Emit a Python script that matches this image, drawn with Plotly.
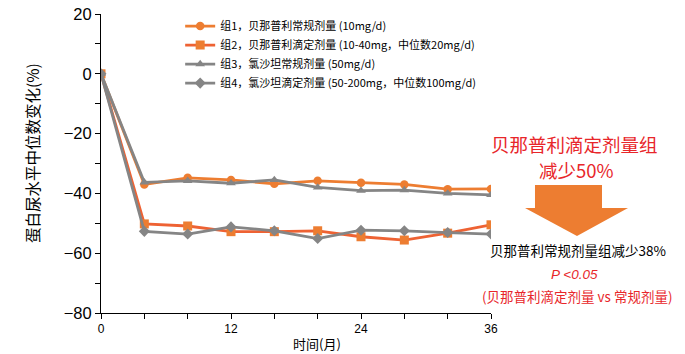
import plotly.graph_objects as go

months = [0, 4, 8, 12, 16, 20, 24, 28, 32, 36]
g1 = [0, -37.0, -34.8, -35.5, -36.8, -35.8, -36.4, -37.0, -38.6, -38.5]
g2 = [0, -50.2, -50.9, -52.8, -52.8, -52.5, -54.5, -55.6, -53.3, -50.5]
g3 = [0, -36.3, -35.8, -36.6, -35.5, -38.0, -39.1, -38.9, -40.0, -40.5]
g4 = [0, -52.7, -53.6, -51.2, -52.5, -55.1, -52.3, -52.5, -53.1, -53.6]
names = [
    "组1，贝那普利常规剂量 (10mg/d)",
    "组2，贝那普利滴定剂量 (10-40mg，中位数20mg/d)",
    "组3，氯沙坦常规剂量 (50mg/d)",
    "组4，氯沙坦滴定剂量 (50-200mg，中位数100mg/d)",
]
ORANGE = "#ED7D31"
GRAY = "#858585"
RED = "#E8262A"
CJK = "Noto Sans CJK SC"
ARIAL = "Liberation Sans"

fig = go.Figure()
fig.add_trace(go.Scatter(x=months, y=g1, name=names[0], mode="lines+markers",
                         line=dict(color=ORANGE, width=2.8),
                         marker=dict(symbol="circle", size=8.5, color=ORANGE), legendrank=1))
fig.add_trace(go.Scatter(x=months, y=g2, name=names[1], mode="lines+markers",
                         line=dict(color="#EE6233", width=2.8),
                         marker=dict(symbol="square", size=9, color=ORANGE), legendrank=2))
fig.add_trace(go.Scatter(x=months, y=g3, name=names[2], mode="lines+markers",
                         line=dict(color=GRAY, width=2.8),
                         marker=dict(symbol="triangle-up", size=8.5, color=GRAY), legendrank=3))
fig.add_trace(go.Scatter(x=months, y=g4, name=names[3], mode="lines+markers",
                         line=dict(color=GRAY, width=2.8),
                         marker=dict(symbol="diamond", size=8.5, color=GRAY), legendrank=4))

def px2paper(px, py):
    return ((px - 101) / 390.0, (313 - py) / 299.0)

# block arrow (decoration)
pts = [(535, 185), (602, 185), (602, 208), (628, 208), (577, 236), (525, 208), (535, 208)]
pp = [px2paper(a, b) for a, b in pts]
path = "M " + " L ".join(f"{a:.4f},{b:.4f}" for a, b in pp) + " Z"
fig.add_shape(type="path", path=path, xref="paper", yref="paper",
              fillcolor=ORANGE, line=dict(width=0))

def ann(text, px, py, size, color, font=CJK, angle=0):
    x, y = px2paper(px, py)
    fig.add_annotation(text=text, x=x, y=y, xref="paper", yref="paper", showarrow=False,
                       xanchor="center", yanchor="middle", textangle=angle,
                       font=dict(family=font, size=size, color=color))

ann("贝那普利滴定剂量组", 574, 144, 18.5, RED)
ann("减少50%", 576, 170, 18.5, RED)
ann("贝那普利常规剂量组减少38%", 578, 250, 13.5, "#000000")
ann("<i>P <0.05</i>", 574, 274, 13.5, RED, ARIAL)
ann("(贝那普利滴定剂量 vs 常规剂量)", 577, 296, 13.5, RED)
ann("时间(月)", 317, 343, 13, "#000000")
ann("蛋白尿水平中位数变化(%)", 32, 153, 15.5, "#000000", angle=-90)

fig.update_layout(
    width=685, height=354,
    margin=dict(l=101, r=194, t=14, b=41, autoexpand=False),
    paper_bgcolor="white", plot_bgcolor="white",
    font=dict(family=CJK, color="#000000"),
    showlegend=True,
    legend=dict(x=0.203, y=1.008, xanchor="left", yanchor="top",
                bgcolor="rgba(0,0,0,0)", font=dict(family=CJK, size=11),
                tracegroupgap=0, itemwidth=30),
    xaxis=dict(range=[0, 36], tickvals=[0, 12, 24, 36], showgrid=False, zeroline=False,
               automargin=False,
               showline=True, linecolor="#000000", linewidth=1,
               ticks="outside", ticklen=5, tickcolor="#000000",
               minor=dict(tickvals=[4, 8, 16, 20, 28, 32], ticks="outside", ticklen=5, tickcolor="#000000"),
               tickfont=dict(family=ARIAL, size=12)),
    yaxis=dict(range=[-80, 20], tickvals=[-80, -60, -40, -20, 0, 20], showgrid=False, zeroline=False,
               automargin=False,
               showline=True, linecolor="#000000", linewidth=1,
               ticks="outside", ticklen=5, tickcolor="#000000",
               minor=dict(tickvals=[-70, -50, -30, -10, 10], ticks="outside", ticklen=5, tickcolor="#000000"),
               tickfont=dict(family=ARIAL, size=16.5)),
)
fig.write_html("out.html")
